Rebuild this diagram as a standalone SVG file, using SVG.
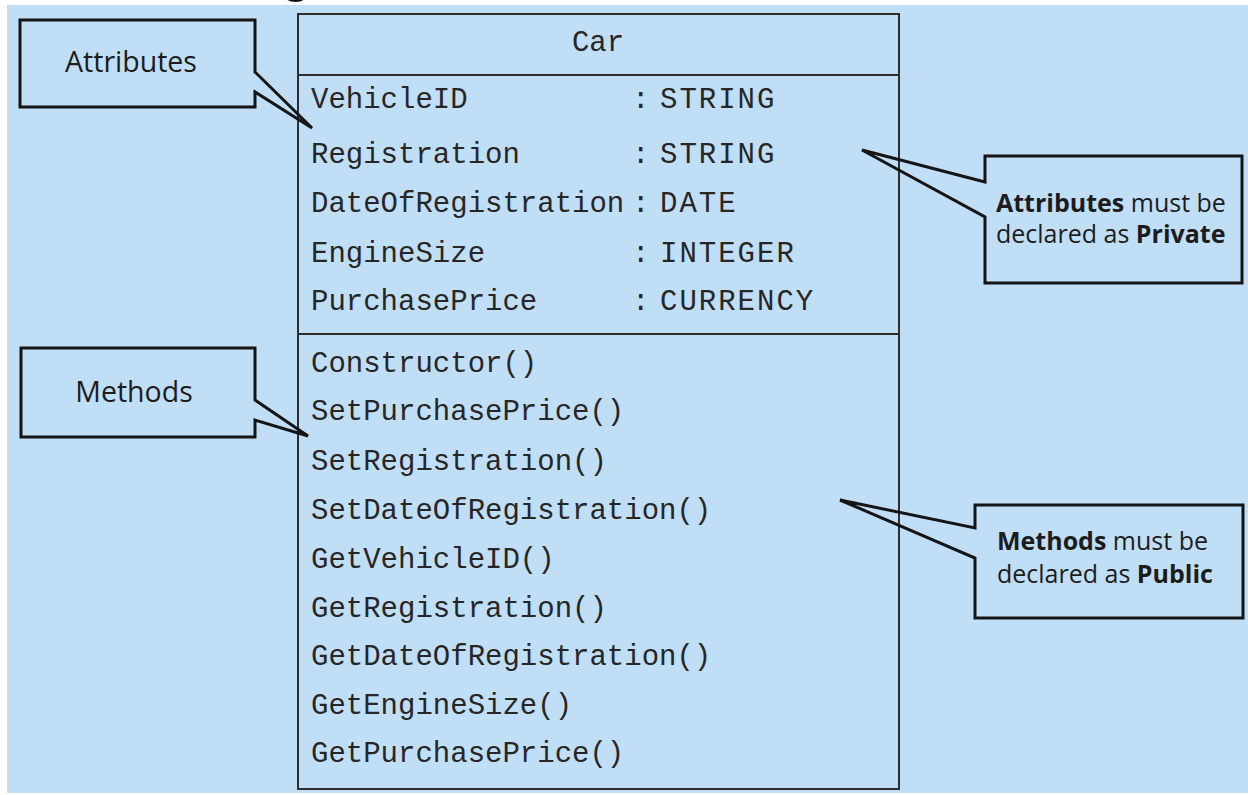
<svg xmlns="http://www.w3.org/2000/svg" width="1248" height="795" viewBox="0 0 1248 795">
<style>
.mono{font-family:"Liberation Mono","Courier New",monospace;font-size:29px;fill:#262626}
.type{letter-spacing:2px}
.lbl{font-family:"Open Sans","Noto Sans",sans-serif;font-size:28.5px;fill:#1c1c1c}
.note{font-family:"Open Sans","Noto Sans",sans-serif;font-size:25px;fill:#1c1c1c}
.b{font-weight:bold}
.callout{fill:none;stroke:#151515;stroke-width:3;stroke-linejoin:miter}
.cls{fill:none;stroke:#2e2e2e;stroke-width:2}
</style>
<rect x="0" y="0" width="1248" height="795" fill="#ffffff"/>
<rect x="7" y="5" width="1241" height="788" fill="#c1def7"/>
<text x="281" y="-8" font-family="Liberation Sans,Arial,sans-serif" font-weight="bold" font-size="50" fill="#111">g</text>

<g id="class-car">
  <rect class="cls" x="298" y="14" width="601" height="775"/>
  <line class="cls" x1="298" y1="75" x2="899" y2="75"/>
  <line class="cls" x1="298" y1="334" x2="899" y2="334"/>
  <text class="mono" x="598" y="51" text-anchor="middle">Car</text>
  <g id="attributes">
    <text class="mono" x="311" y="108">VehicleID</text>
    <text class="mono" x="632" y="108">:</text>
    <text class="mono type" x="660" y="108">STRING</text>
    <text class="mono" x="311" y="163">Registration</text>
    <text class="mono" x="632" y="163">:</text>
    <text class="mono type" x="660" y="163">STRING</text>
    <text class="mono" x="311" y="212">DateOfRegistration</text>
    <text class="mono" x="632" y="212">:</text>
    <text class="mono type" x="660" y="212">DATE</text>
    <text class="mono" x="311" y="262">EngineSize</text>
    <text class="mono" x="632" y="262">:</text>
    <text class="mono type" x="660" y="262">INTEGER</text>
    <text class="mono" x="311" y="310">PurchasePrice</text>
    <text class="mono" x="632" y="310">:</text>
    <text class="mono type" x="660" y="310">CURRENCY</text>
  </g>
  <g id="methods">
    <text class="mono" x="311" y="372">Constructor()</text>
    <text class="mono" x="311" y="420">SetPurchasePrice()</text>
    <text class="mono" x="311" y="470">SetRegistration()</text>
    <text class="mono" x="311" y="519">SetDateOfRegistration()</text>
    <text class="mono" x="311" y="568">GetVehicleID()</text>
    <text class="mono" x="311" y="617">GetRegistration()</text>
    <text class="mono" x="311" y="665">GetDateOfRegistration()</text>
    <text class="mono" x="311" y="714">GetEngineSize()</text>
    <text class="mono" x="311" y="762">GetPurchasePrice()</text>
  </g>
</g>

<g id="connectors">
  <path class="callout" d="M20,20 H255 V72 L312,128 L255,92 V107 H20 Z"/>
  <path class="callout" d="M21,348 H255 V400 L308,436 L255,420 V437 H21 Z"/>
  <path class="callout" d="M985,156 H1242 V283 H985 V217 L862,150 L985,182 Z"/>
  <path class="callout" d="M975,505 H1243 V618 H975 V558 L840,500 L975,528 Z"/>
</g>

<g id="note-attributes">
  <text class="lbl" x="131" y="72" text-anchor="middle">Attributes</text>
</g>
<g id="note-methods">
  <text class="lbl" x="134" y="402" text-anchor="middle">Methods</text>
</g>
<g id="note-private">
  <text class="note" x="996" y="212"><tspan class="b">Attributes</tspan> must be</text>
  <text class="note" x="996" y="243">declared as <tspan class="b">Private</tspan></text>
</g>
<g id="note-public">
  <text class="note" x="997" y="550"><tspan class="b">Methods</tspan> must be</text>
  <text class="note" x="997" y="583">declared as <tspan class="b">Public</tspan></text>
</g>
</svg>
